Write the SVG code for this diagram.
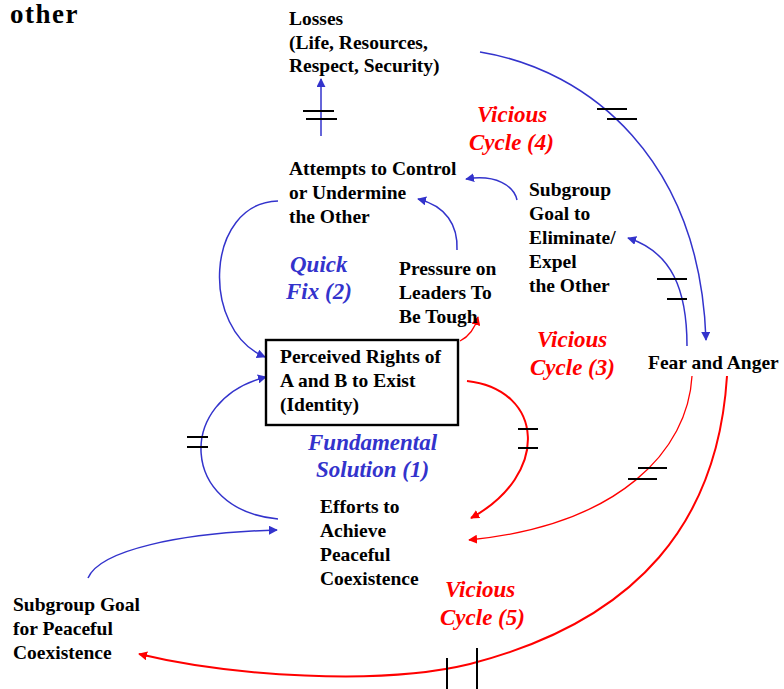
<svg xmlns="http://www.w3.org/2000/svg" width="784" height="689" viewBox="0 0 784 689">
<defs>
<marker id="ab" viewBox="0 0 10 10" refX="9" refY="5" markerWidth="9" markerHeight="9" markerUnits="userSpaceOnUse" orient="auto"><path d="M0,0 L10,5 L0,10 z" fill="#3333cc"/></marker>
<marker id="ar" viewBox="0 0 10 10" refX="9" refY="5" markerWidth="9" markerHeight="9" markerUnits="userSpaceOnUse" orient="auto"><path d="M0,0 L10,5 L0,10 z" fill="#ff0000"/></marker>
</defs>
<style>
.t{font-family:"Liberation Serif","Times New Roman",serif;font-weight:bold;font-size:19.5px;fill:#000}
.lb{font-family:"Liberation Serif","Times New Roman",serif;font-weight:bold;font-style:italic;font-size:23px;fill:#3333cc}
.lr{font-family:"Liberation Serif","Times New Roman",serif;font-weight:bold;font-style:italic;font-size:23px;fill:#ff0000}
.cb{fill:none;stroke:#3333cc;stroke-width:1.5;marker-end:url(#ab)}
.cr{fill:none;stroke:#ff0000;stroke-width:1.3;marker-end:url(#ar)}
.crt{fill:none;stroke:#ff0000;stroke-width:2;marker-end:url(#ar)}
.h{stroke:#000;stroke-width:2}
</style>
<rect width="784" height="689" fill="#fff"/>
<text x="10" y="23" style="font-family:'Liberation Serif','Times New Roman',serif;font-weight:bold;font-size:27px;letter-spacing:1.5px">other</text>

<g id="connectors">
<path class="cb" d="M321,136 L321,79"/>
<line class="h" x1="303" y1="111" x2="334" y2="111"/>
<line class="h" x1="306" y1="119" x2="337" y2="119"/>
<path class="cb" d="M480,52 C590,70 700,160 706,340"/>
<line class="h" x1="597" y1="109" x2="627" y2="109"/>
<line class="h" x1="607" y1="119" x2="637" y2="119"/>
<path class="cb" d="M517,200 C514,186 496,174 466,179"/>
<path class="cb" d="M457,250 C458,225 446,206 418,199"/>
<path class="cb" d="M687,346 C687,290 672,252 628,238"/>
<line class="h" x1="657" y1="279" x2="687" y2="279"/>
<line class="h" x1="667" y1="299" x2="687" y2="299"/>
<path class="cb" d="M278,201 C205,203 200,330 265,357"/>
<path class="cb" d="M278,519 C180,510 175,400 266,377"/>
<line class="h" x1="187" y1="437" x2="208" y2="437"/>
<line class="h" x1="187" y1="447" x2="208" y2="447"/>
<path class="crt" d="M467,381 C545,390 550,475 471,518"/>
<line class="h" x1="518" y1="429" x2="538" y2="429"/>
<line class="h" x1="518" y1="448" x2="538" y2="448"/>
<path class="cr" d="M460,341 C470,336 475,328 478,317"/>
<path class="cr" d="M692,376 C688,450 620,525 469,540"/>
<line class="h" x1="638" y1="468" x2="667" y2="468"/>
<line class="h" x1="628" y1="479" x2="657" y2="479"/>
<path class="crt" d="M727,376 C718,520 640,620 470,664 C380,686 230,676 139,654"/>
<line class="h" x1="447" y1="658" x2="447" y2="689"/>
<line class="h" x1="477" y1="648" x2="477" y2="689"/>
<path class="cb" d="M88,578 C100,550 180,533 277,530"/>
</g>

<g id="losses"><text class="t" x="289" y="25">Losses</text><text class="t" x="289" y="49">(Life, Resources,</text><text class="t" x="289" y="72">Respect, Security)</text></g>
<g id="attempts"><text class="t" x="289" y="175">Attempts to Control</text><text class="t" x="289" y="199">or Undermine</text><text class="t" x="289" y="223">the Other</text></g>
<g id="eliminate"><text class="t" x="529" y="196">Subgroup</text><text class="t" x="529" y="220">Goal to</text><text class="t" x="529" y="244">Eliminate/</text><text class="t" x="529" y="268">Expel</text><text class="t" x="529" y="292">the Other</text></g>
<g id="pressure"><text class="t" x="399" y="275">Pressure on</text><text class="t" x="399" y="299">Leaders To</text><text class="t" x="399" y="323">Be Tough</text></g>
<g id="rights"><rect x="266" y="340" width="192" height="85" fill="#fff" stroke="#000" stroke-width="2.4"/><text class="t" x="280" y="363">Perceived Rights of</text><text class="t" x="280" y="387">A and B to Exist</text><text class="t" x="280" y="411">(Identity)</text></g>
<g id="fear"><text class="t" x="648" y="369">Fear and Anger</text></g>
<g id="efforts"><text class="t" x="320" y="513">Efforts to</text><text class="t" x="320" y="537">Achieve</text><text class="t" x="320" y="561">Peaceful</text><text class="t" x="320" y="585">Coexistence</text></g>
<g id="peacegoal"><text class="t" x="13" y="611">Subgroup Goal</text><text class="t" x="13" y="635">for Peaceful</text><text class="t" x="13" y="659">Coexistence</text></g>

<g id="labels">
<text class="lr" x="477" y="122">Vicious</text><text class="lr" x="469" y="150">Cycle (4)</text>
<text class="lb" x="290" y="272">Quick</text><text class="lb" x="286" y="299">Fix (2)</text>
<text class="lr" x="537" y="347">Vicious</text><text class="lr" x="530" y="375">Cycle (3)</text>
<text class="lb" x="308" y="450">Fundamental</text><text class="lb" x="316" y="477">Solution (1)</text>
<text class="lr" x="445" y="597">Vicious</text><text class="lr" x="440" y="625">Cycle (5)</text>
</g>
</svg>
